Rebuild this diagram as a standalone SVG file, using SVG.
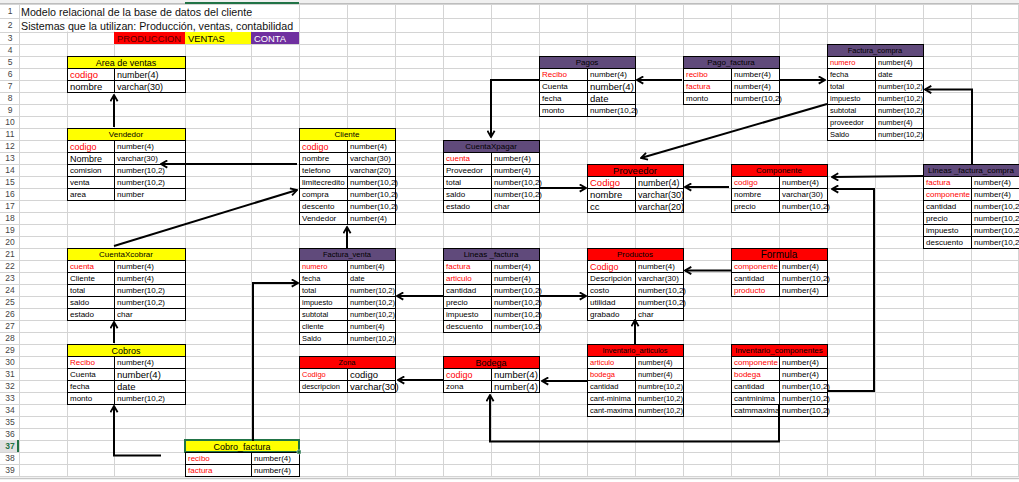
<svg xmlns="http://www.w3.org/2000/svg" width="1019" height="482" viewBox="0 0 1019 482">
<defs>
<style>
text{font-family:"Liberation Sans",Arial,sans-serif;dominant-baseline:central;fill:#000}
.grid{stroke:#d4d4d4;stroke-width:1;fill:none;shape-rendering:crispEdges}
.c{fill:#fff;stroke:#000;stroke-width:1;shape-rendering:crispEdges}
.hy{fill:#ffff00;stroke:#000;stroke-width:1;shape-rendering:crispEdges}
.hr{fill:#ff0000;stroke:#000;stroke-width:1;shape-rendering:crispEdges}
.hp{fill:#604a7b;stroke:#000;stroke-width:1;shape-rendering:crispEdges}
.xs{font-size:7.5px}.s{font-size:8px}.n9{font-size:9px}.l{font-size:9.5px}.xl{font-size:10px}
.k{fill:#ff0000}
.mid{text-anchor:middle}
.rn{font-size:8.5px;fill:#444;text-anchor:middle}
.ttl{font-size:10.7px;fill:#111}
.leg{font-size:9.4px}
#connectors path{fill:none;stroke:#000;stroke-width:2;marker-end:url(#arr)}
</style>
<marker id="arr" viewBox="0 0 10 10" refX="9" refY="5" markerWidth="9" markerHeight="9" markerUnits="userSpaceOnUse" orient="auto"><path d="M2,1 L9,5 L2,9" fill="none" stroke="#000" stroke-width="2"/></marker>
</defs>
<rect x="0" y="0" width="1019" height="482" fill="#fff"/>
<g id="sheet">
<rect x="0" y="0" width="1019" height="3" fill="#f0f0f0"/>
<path d="M0,3.5H1019" stroke="#bdbdbd" stroke-width="1"/>
<path d="M185,3H299" stroke="#217346" stroke-width="2"/>
<path class="grid" d="M0,4H1019M0,18H1019M0,32H1019M0,44H1019M0,56H1019M0,68H1019M0,80H1019M0,92H1019M0,104H1019M0,116H1019M0,128H1019M0,140H1019M0,152H1019M0,164H1019M0,176H1019M0,188H1019M0,200H1019M0,212H1019M0,224H1019M0,236H1019M0,248H1019M0,260H1019M0,272H1019M0,284H1019M0,296H1019M0,308H1019M0,320H1019M0,332H1019M0,344H1019M0,356H1019M0,368H1019M0,380H1019M0,392H1019M0,404H1019M0,416H1019M0,428H1019M0,440H1019M0,452H1019M0,464H1019M0,476H1019"/>
<path class="grid" d="M19,4V476M67,4V476M114,4V476M185,4V476M251,4V476M299,4V476M347,4V476M395,4V476M443,4V476M491,4V476M539,4V476M587,4V476M635,4V476M683,4V476M731,4V476M779,4V476M827,4V476M875,4V476M923,4V476M971,4V476M1018,4V476"/>
<rect x="20" y="5" width="278" height="12.5" fill="#fff"/>
<rect x="20" y="18.5" width="278" height="13" fill="#fff"/>
<path d="M0,478.5H1019" stroke="#c6c6c6" stroke-width="1.5"/>
<rect x="0" y="440" width="18" height="12" fill="#e1e1e1"/>
<path d="M18,440V452" stroke="#217346" stroke-width="2"/>
<g>
<text class="rn" x="10" y="11">1</text><text class="rn" x="10" y="25">2</text><text class="rn" x="10" y="38">3</text><text class="rn" x="10" y="50">4</text><text class="rn" x="10" y="62">5</text><text class="rn" x="10" y="74">6</text><text class="rn" x="10" y="86">7</text><text class="rn" x="10" y="98">8</text><text class="rn" x="10" y="110">9</text><text class="rn" x="10" y="122">10</text><text class="rn" x="10" y="134">11</text><text class="rn" x="10" y="146">12</text><text class="rn" x="10" y="158">13</text><text class="rn" x="10" y="170">14</text><text class="rn" x="10" y="182">15</text><text class="rn" x="10" y="194">16</text><text class="rn" x="10" y="206">17</text><text class="rn" x="10" y="218">18</text><text class="rn" x="10" y="230">19</text><text class="rn" x="10" y="242">20</text><text class="rn" x="10" y="254">21</text><text class="rn" x="10" y="266">22</text><text class="rn" x="10" y="278">23</text><text class="rn" x="10" y="290">24</text><text class="rn" x="10" y="302">25</text><text class="rn" x="10" y="314">26</text><text class="rn" x="10" y="326">27</text><text class="rn" x="10" y="338">28</text><text class="rn" x="10" y="350">29</text><text class="rn" x="10" y="362">30</text><text class="rn" x="10" y="374">31</text><text class="rn" x="10" y="386">32</text><text class="rn" x="10" y="398">33</text><text class="rn" x="10" y="410">34</text><text class="rn" x="10" y="422">35</text><text class="rn" x="10" y="434">36</text><text class="rn" x="10" y="446" style="fill:#217346;font-weight:bold">37</text><text class="rn" x="10" y="458">38</text><text class="rn" x="10" y="470">39</text>
</g>
</g>
<g id="title">
<text class="ttl" x="21" y="11.5">Modelo relacional de la base de datos del cliente</text>
<text class="ttl" x="21" y="25.5">Sistemas que la utilizan: Producción, ventas, contabilidad</text>
</g>
<g id="legend">
<rect x="114" y="32" width="71" height="12" fill="#ff0000"/>
<rect x="185" y="32" width="66" height="12" fill="#ffff00"/>
<rect x="251" y="32" width="48" height="12" fill="#7030a0"/>
<text class="leg" x="117" y="38.5" style="fill:#5a0000">PRODUCCION</text>
<text class="leg" x="188" y="38.5">VENTAS</text>
<text class="leg" x="254" y="38.5" style="fill:#fff">CONTA</text>
</g>

<g id="area-ventas">
<rect class="hy" x="67" y="56" width="118" height="12"/><text class="n9 mid" x="126" y="62.5">Area de ventas</text>
<rect class="c" x="67" y="68" width="47" height="12"/><rect class="c" x="114" y="68" width="71" height="12"/>
<rect class="c" x="67" y="80" width="47" height="12"/><rect class="c" x="114" y="80" width="71" height="12"/>
<text class="l k" x="70" y="74.5">codigo</text><text class="n9" x="117" y="74.5">number(4)</text>
<text class="l" x="70" y="86.5">nombre</text><text class="n9" x="117" y="86.5">varchar(30)</text>
</g>

<g id="vendedor">
<rect class="hy" x="67" y="128" width="118" height="12"/><text class="s mid" x="126" y="134.5">Vendedor</text>
<rect class="c" x="67" y="140" width="47" height="12"/><rect class="c" x="114" y="140" width="71" height="12"/>
<rect class="c" x="67" y="152" width="47" height="12"/><rect class="c" x="114" y="152" width="71" height="12"/>
<rect class="c" x="67" y="164" width="47" height="12"/><rect class="c" x="114" y="164" width="71" height="12"/>
<rect class="c" x="67" y="176" width="47" height="12"/><rect class="c" x="114" y="176" width="71" height="12"/>
<rect class="c" x="67" y="188" width="47" height="12"/><rect class="c" x="114" y="188" width="71" height="12"/>
<text class="n9 k" x="70" y="146.5">codigo</text><text class="s" x="117" y="146.5">number(4)</text>
<text class="n9" x="70" y="158.5">Nombre</text><text class="s" x="117" y="158.5">varchar(30)</text>
<text class="s" x="70" y="170.5">comision</text><text class="s" x="117" y="170.5">number(10,2)</text>
<text class="s" x="70" y="182.5">venta</text><text class="s" x="117" y="182.5">number(10,2)</text>
<text class="s" x="70" y="194.5">area</text><text class="s" x="117" y="194.5">number</text>
</g>

<g id="cuentaxcobrar">
<rect class="hy" x="67" y="248" width="118" height="12"/><text class="s mid" x="126" y="254.5">CuentaXcobrar</text>
<rect class="c" x="67" y="260" width="47" height="12"/><rect class="c" x="114" y="260" width="71" height="12"/>
<rect class="c" x="67" y="272" width="47" height="12"/><rect class="c" x="114" y="272" width="71" height="12"/>
<rect class="c" x="67" y="284" width="47" height="12"/><rect class="c" x="114" y="284" width="71" height="12"/>
<rect class="c" x="67" y="296" width="47" height="12"/><rect class="c" x="114" y="296" width="71" height="12"/>
<rect class="c" x="67" y="308" width="47" height="12"/><rect class="c" x="114" y="308" width="71" height="12"/>
<text class="s k" x="70" y="266.5">cuenta</text><text class="s" x="117" y="266.5">number(4)</text>
<text class="s" x="70" y="278.5">Cliente</text><text class="s" x="117" y="278.5">number(4)</text>
<text class="s" x="70" y="290.5">total</text><text class="s" x="117" y="290.5">number(10,2)</text>
<text class="s" x="70" y="302.5">saldo</text><text class="s" x="117" y="302.5">number(10,2)</text>
<text class="s" x="70" y="314.5">estado</text><text class="s" x="117" y="314.5">char</text>
</g>

<g id="cobros">
<rect class="hy" x="67" y="344" width="118" height="12"/><text class="n9 mid" x="126" y="350.5">Cobros</text>
<rect class="c" x="67" y="356" width="47" height="12"/><rect class="c" x="114" y="356" width="71" height="12"/>
<rect class="c" x="67" y="368" width="47" height="12"/><rect class="c" x="114" y="368" width="71" height="12"/>
<rect class="c" x="67" y="380" width="47" height="12"/><rect class="c" x="114" y="380" width="71" height="12"/>
<rect class="c" x="67" y="392" width="47" height="12"/><rect class="c" x="114" y="392" width="71" height="12"/>
<text class="s k" x="70" y="362.5">Recibo</text><text class="s" x="117" y="362.5">number(4)</text>
<text class="s" x="70" y="374.5">Cuenta</text><text class="l" x="117" y="374.5">number(4)</text>
<text class="s" x="70" y="386.5">fecha</text><text class="l" x="117" y="386.5">date</text>
<text class="s" x="70" y="398.5">monto</text><text class="s" x="117" y="398.5">number(10,2)</text>
</g>

<g id="cobro-factura">
<rect class="hy" x="185" y="440" width="114" height="12" style="stroke:#217346;stroke-width:2"/><text class="n9 mid" x="242" y="446.5">Cobro_factura</text>
<rect class="c" x="185" y="452" width="66" height="12"/><rect class="c" x="251" y="452" width="48" height="12"/>
<rect class="c" x="185" y="464" width="66" height="12"/><rect class="c" x="251" y="464" width="48" height="12"/>
<rect x="297" y="450" width="4" height="4" fill="#217346" stroke="#fff" stroke-width="0.5"/>
<text class="s k" x="188" y="458.5">recibo</text><text class="s" x="254" y="458.5">number(4)</text>
<text class="s k" x="188" y="470.5">factura</text><text class="s" x="254" y="470.5">number(4)</text>
</g>

<g id="cliente">
<rect class="hy" x="299" y="128" width="96" height="12"/><text class="s mid" x="347" y="134.5">Cliente</text>
<rect class="c" x="299" y="140" width="48" height="12"/><rect class="c" x="347" y="140" width="48" height="12"/>
<rect class="c" x="299" y="152" width="48" height="12"/><rect class="c" x="347" y="152" width="48" height="12"/>
<rect class="c" x="299" y="164" width="48" height="12"/><rect class="c" x="347" y="164" width="48" height="12"/>
<rect class="c" x="299" y="176" width="48" height="12"/><rect class="c" x="347" y="176" width="48" height="12"/>
<rect class="c" x="299" y="188" width="48" height="12"/><rect class="c" x="347" y="188" width="48" height="12"/>
<rect class="c" x="299" y="200" width="48" height="12"/><rect class="c" x="347" y="200" width="48" height="12"/>
<rect class="c" x="299" y="212" width="48" height="12"/><rect class="c" x="347" y="212" width="48" height="12"/>
<text class="n9 k" x="302" y="146.5">codigo</text><text class="s" x="350" y="146.5">number(4)</text>
<text class="s" x="302" y="158.5">nombre</text><text class="s" x="350" y="158.5">varchar(30)</text>
<text class="s" x="302" y="170.5">telefono</text><text class="s" x="350" y="170.5">varchar(20)</text>
<text class="s" x="302" y="182.5">limitecredito</text><text class="s" x="350" y="182.5">number(10,2)</text>
<text class="s" x="302" y="194.5">compra</text><text class="s" x="350" y="194.5">number(10,2)</text>
<text class="s" x="302" y="206.5">descento</text><text class="s" x="350" y="206.5">number(10,2)</text>
<text class="s" x="302" y="218.5">Vendedor</text><text class="s" x="350" y="218.5">number(4)</text>
</g>

<g id="factura-venta">
<rect class="hp" x="299" y="248" width="96" height="12"/><text class="xs mid" x="347" y="254.5">Factura_venta</text>
<rect class="c" x="299" y="260" width="48" height="12"/><rect class="c" x="347" y="260" width="48" height="12"/>
<rect class="c" x="299" y="272" width="48" height="12"/><rect class="c" x="347" y="272" width="48" height="12"/>
<rect class="c" x="299" y="284" width="48" height="12"/><rect class="c" x="347" y="284" width="48" height="12"/>
<rect class="c" x="299" y="296" width="48" height="12"/><rect class="c" x="347" y="296" width="48" height="12"/>
<rect class="c" x="299" y="308" width="48" height="12"/><rect class="c" x="347" y="308" width="48" height="12"/>
<rect class="c" x="299" y="320" width="48" height="12"/><rect class="c" x="347" y="320" width="48" height="12"/>
<rect class="c" x="299" y="332" width="48" height="12"/><rect class="c" x="347" y="332" width="48" height="12"/>
<text class="xs k" x="302" y="266.5">numero</text><text class="xs" x="350" y="266.5">number(4)</text>
<text class="xs" x="302" y="278.5">fecha</text><text class="xs" x="350" y="278.5">date</text>
<text class="xs" x="302" y="290.5">total</text><text class="xs" x="350" y="290.5">number(10,2)</text>
<text class="xs" x="302" y="302.5">impuesto</text><text class="xs" x="350" y="302.5">number(10,2)</text>
<text class="xs" x="302" y="314.5">subtotal</text><text class="xs" x="350" y="314.5">number(10,2)</text>
<text class="xs" x="302" y="326.5">cliente</text><text class="xs" x="350" y="326.5">number(4)</text>
<text class="xs" x="302" y="338.5">Saldo</text><text class="xs" x="350" y="338.5">number(10,2)</text>
</g>

<g id="zona">
<rect class="hr" x="299" y="356" width="96" height="12"/><text class="xs mid" x="347" y="362.5">Zona</text>
<rect class="c" x="299" y="368" width="48" height="12"/><rect class="c" x="347" y="368" width="48" height="12"/>
<rect class="c" x="299" y="380" width="48" height="12"/><rect class="c" x="347" y="380" width="48" height="12"/>
<text class="xs k" x="302" y="374.5">Codigo</text><text class="l" x="350" y="374.5">codigo</text>
<text class="xs" x="302" y="386.5">descripcion</text><text class="l" x="350" y="386.5">varchar(30)</text>
</g>

<g id="cuentaxpagar">
<rect class="hp" x="443" y="140" width="96" height="12"/><text class="s mid" x="491" y="146.5">CuentaXpagar</text>
<rect class="c" x="443" y="152" width="48" height="12"/><rect class="c" x="491" y="152" width="48" height="12"/>
<rect class="c" x="443" y="164" width="48" height="12"/><rect class="c" x="491" y="164" width="48" height="12"/>
<rect class="c" x="443" y="176" width="48" height="12"/><rect class="c" x="491" y="176" width="48" height="12"/>
<rect class="c" x="443" y="188" width="48" height="12"/><rect class="c" x="491" y="188" width="48" height="12"/>
<rect class="c" x="443" y="200" width="48" height="12"/><rect class="c" x="491" y="200" width="48" height="12"/>
<text class="s k" x="446" y="158.5">cuenta</text><text class="s" x="494" y="158.5">number(4)</text>
<text class="s" x="446" y="170.5">Proveedor</text><text class="s" x="494" y="170.5">number(4)</text>
<text class="s" x="446" y="182.5">total</text><text class="s" x="494" y="182.5">number(10,2)</text>
<text class="s" x="446" y="194.5">saldo</text><text class="s" x="494" y="194.5">number(10,2)</text>
<text class="s" x="446" y="206.5">estado</text><text class="s" x="494" y="206.5">char</text>
</g>

<g id="lineas-factura">
<rect class="hp" x="443" y="248" width="96" height="12"/><text class="s mid" x="491" y="254.5">Lineas _factura</text>
<rect class="c" x="443" y="260" width="48" height="12"/><rect class="c" x="491" y="260" width="48" height="12"/>
<rect class="c" x="443" y="272" width="48" height="12"/><rect class="c" x="491" y="272" width="48" height="12"/>
<rect class="c" x="443" y="284" width="48" height="12"/><rect class="c" x="491" y="284" width="48" height="12"/>
<rect class="c" x="443" y="296" width="48" height="12"/><rect class="c" x="491" y="296" width="48" height="12"/>
<rect class="c" x="443" y="308" width="48" height="12"/><rect class="c" x="491" y="308" width="48" height="12"/>
<rect class="c" x="443" y="320" width="48" height="12"/><rect class="c" x="491" y="320" width="48" height="12"/>
<text class="s k" x="446" y="266.5">factura</text><text class="s" x="494" y="266.5">number(4)</text>
<text class="s k" x="446" y="278.5">articulo</text><text class="s" x="494" y="278.5">number(4)</text>
<text class="s" x="446" y="290.5">cantidad</text><text class="s" x="494" y="290.5">number(10,2)</text>
<text class="s" x="446" y="302.5">precio</text><text class="s" x="494" y="302.5">number(10,2)</text>
<text class="s" x="446" y="314.5">impuesto</text><text class="s" x="494" y="314.5">number(10,2)</text>
<text class="s" x="446" y="326.5">descuento</text><text class="s" x="494" y="326.5">number(10,2)</text>
</g>

<g id="bodega">
<rect class="hr" x="443" y="356" width="96" height="12"/><text class="n9 mid" x="491" y="362.5">Bodega</text>
<rect class="c" x="443" y="368" width="48" height="12"/><rect class="c" x="491" y="368" width="48" height="12"/>
<rect class="c" x="443" y="380" width="48" height="12"/><rect class="c" x="491" y="380" width="48" height="12"/>
<text class="n9 k" x="446" y="374.5">codigo</text><text class="l" x="494" y="374.5">number(4)</text>
<text class="s" x="446" y="386.5">zona</text><text class="l" x="494" y="386.5">number(4)</text>
</g>

<g id="pagos">
<rect class="hp" x="539" y="56" width="96" height="12"/><text class="s mid" x="587" y="62.5">Pagos</text>
<rect class="c" x="539" y="68" width="48" height="12"/><rect class="c" x="587" y="68" width="48" height="12"/>
<rect class="c" x="539" y="80" width="48" height="12"/><rect class="c" x="587" y="80" width="48" height="12"/>
<rect class="c" x="539" y="92" width="48" height="12"/><rect class="c" x="587" y="92" width="48" height="12"/>
<rect class="c" x="539" y="104" width="48" height="12"/><rect class="c" x="587" y="104" width="48" height="12"/>
<text class="s k" x="542" y="74.5">Recibo</text><text class="s" x="590" y="74.5">number(4)</text>
<text class="s" x="542" y="86.5">Cuenta</text><text class="l" x="590" y="86.5">number(4)</text>
<text class="s" x="542" y="98.5">fecha</text><text class="l" x="590" y="98.5">date</text>
<text class="s" x="542" y="110.5">monto</text><text class="s" x="590" y="110.5">number(10,2)</text>
</g>

<g id="pago-factura">
<rect class="hp" x="683" y="56" width="96" height="12"/><text class="s mid" x="731" y="62.5">Pago_factura</text>
<rect class="c" x="683" y="68" width="48" height="12"/><rect class="c" x="731" y="68" width="48" height="12"/>
<rect class="c" x="683" y="80" width="48" height="12"/><rect class="c" x="731" y="80" width="48" height="12"/>
<rect class="c" x="683" y="92" width="48" height="12"/><rect class="c" x="731" y="92" width="48" height="12"/>
<text class="s k" x="686" y="74.5">recibo</text><text class="s" x="734" y="74.5">number(4)</text>
<text class="s k" x="686" y="86.5">factura</text><text class="s" x="734" y="86.5">number(4)</text>
<text class="s" x="686" y="98.5">monto</text><text class="s" x="734" y="98.5">number(10,2)</text>
</g>

<g id="factura-compra">
<rect class="hp" x="827" y="44" width="96" height="12"/><text class="xs mid" x="875" y="50.5">Factura_compra</text>
<rect class="c" x="827" y="56" width="48" height="12"/><rect class="c" x="875" y="56" width="48" height="12"/>
<rect class="c" x="827" y="68" width="48" height="12"/><rect class="c" x="875" y="68" width="48" height="12"/>
<rect class="c" x="827" y="80" width="48" height="12"/><rect class="c" x="875" y="80" width="48" height="12"/>
<rect class="c" x="827" y="92" width="48" height="12"/><rect class="c" x="875" y="92" width="48" height="12"/>
<rect class="c" x="827" y="104" width="48" height="12"/><rect class="c" x="875" y="104" width="48" height="12"/>
<rect class="c" x="827" y="116" width="48" height="12"/><rect class="c" x="875" y="116" width="48" height="12"/>
<rect class="c" x="827" y="128" width="48" height="12"/><rect class="c" x="875" y="128" width="48" height="12"/>
<text class="xs k" x="830" y="62.5">numero</text><text class="xs" x="878" y="62.5">number(4)</text>
<text class="xs" x="830" y="74.5">fecha</text><text class="xs" x="878" y="74.5">date</text>
<text class="xs" x="830" y="86.5">total</text><text class="xs" x="878" y="86.5">number(10,2)</text>
<text class="xs" x="830" y="98.5">impuesto</text><text class="xs" x="878" y="98.5">number(10,2)</text>
<text class="xs" x="830" y="110.5">subtotal</text><text class="xs" x="878" y="110.5">number(10,2)</text>
<text class="xs" x="830" y="122.5">proveedor</text><text class="xs" x="878" y="122.5">number(4)</text>
<text class="xs" x="830" y="134.5">Saldo</text><text class="xs" x="878" y="134.5">number(10,2)</text>
</g>

<g id="proveedor">
<rect class="hr" x="587" y="164" width="96" height="12"/><text class="l mid" x="635" y="170.5">Proveedor</text>
<rect class="c" x="587" y="176" width="48" height="12"/><rect class="c" x="635" y="176" width="48" height="12"/>
<rect class="c" x="587" y="188" width="48" height="12"/><rect class="c" x="635" y="188" width="48" height="12"/>
<rect class="c" x="587" y="200" width="48" height="12"/><rect class="c" x="635" y="200" width="48" height="12"/>
<text class="l k" x="590" y="182.5">Codigo</text><text class="n9" x="638" y="182.5">number(4)</text>
<text class="l" x="590" y="194.5">nombre</text><text class="n9" x="638" y="194.5">varchar(30)</text>
<text class="l" x="590" y="206.5">cc</text><text class="n9" x="638" y="206.5">varchar(20)</text>
</g>

<g id="componente">
<rect class="hr" x="731" y="164" width="96" height="12"/><text class="s mid" x="779" y="170.5">Componente</text>
<rect class="c" x="731" y="176" width="48" height="12"/><rect class="c" x="779" y="176" width="48" height="12"/>
<rect class="c" x="731" y="188" width="48" height="12"/><rect class="c" x="779" y="188" width="48" height="12"/>
<rect class="c" x="731" y="200" width="48" height="12"/><rect class="c" x="779" y="200" width="48" height="12"/>
<text class="s k" x="734" y="182.5">codigo</text><text class="s" x="782" y="182.5">number(4)</text>
<text class="s" x="734" y="194.5">nombre</text><text class="s" x="782" y="194.5">varchar(30)</text>
<text class="s" x="734" y="206.5">precio</text><text class="s" x="782" y="206.5">number(10,2)</text>
</g>

<g id="lineas-factura-compra">
<rect class="hp" x="923" y="164" width="108" height="12"/><text class="s mid" x="971" y="170.5">Lineas _factura_compra</text>
<rect class="c" x="923" y="176" width="48" height="12"/><rect class="c" x="971" y="176" width="60" height="12"/>
<rect class="c" x="923" y="188" width="48" height="12"/><rect class="c" x="971" y="188" width="60" height="12"/>
<rect class="c" x="923" y="200" width="48" height="12"/><rect class="c" x="971" y="200" width="60" height="12"/>
<rect class="c" x="923" y="212" width="48" height="12"/><rect class="c" x="971" y="212" width="60" height="12"/>
<rect class="c" x="923" y="224" width="48" height="12"/><rect class="c" x="971" y="224" width="60" height="12"/>
<rect class="c" x="923" y="236" width="48" height="12"/><rect class="c" x="971" y="236" width="60" height="12"/>
<text class="s k" x="926" y="182.5">factura</text><text class="s" x="974" y="182.5">number(4)</text>
<text class="s k" x="926" y="194.5">componente</text><text class="s" x="974" y="194.5">number(4)</text>
<text class="s" x="926" y="206.5">cantidad</text><text class="s" x="974" y="206.5">number(10,2</text>
<text class="s" x="926" y="218.5">precio</text><text class="s" x="974" y="218.5">number(10,2</text>
<text class="s" x="926" y="230.5">impuesto</text><text class="s" x="974" y="230.5">number(10,2</text>
<text class="s" x="926" y="242.5">descuento</text><text class="s" x="974" y="242.5">number(10,2</text>
</g>

<g id="productos">
<rect class="hr" x="587" y="248" width="96" height="12"/><text class="s mid" x="635" y="254.5">Productos</text>
<rect class="c" x="587" y="260" width="48" height="12"/><rect class="c" x="635" y="260" width="48" height="12"/>
<rect class="c" x="587" y="272" width="48" height="12"/><rect class="c" x="635" y="272" width="48" height="12"/>
<rect class="c" x="587" y="284" width="48" height="12"/><rect class="c" x="635" y="284" width="48" height="12"/>
<rect class="c" x="587" y="296" width="48" height="12"/><rect class="c" x="635" y="296" width="48" height="12"/>
<rect class="c" x="587" y="308" width="48" height="12"/><rect class="c" x="635" y="308" width="48" height="12"/>
<text class="n9 k" x="590" y="266.5">Codigo</text><text class="s" x="638" y="266.5">number(4)</text>
<text class="s" x="590" y="278.5">Descripción</text><text class="s" x="638" y="278.5">varchar(30)</text>
<text class="s" x="590" y="290.5">costo</text><text class="s" x="638" y="290.5">number(10,2)</text>
<text class="s" x="590" y="302.5">utilidad</text><text class="s" x="638" y="302.5">number(10,2)</text>
<text class="s" x="590" y="314.5">grabado</text><text class="s" x="638" y="314.5">char</text>
</g>

<g id="formula">
<rect class="hr" x="731" y="248" width="96" height="12"/><text class="xl mid" x="779" y="254.5">Formula</text>
<rect class="c" x="731" y="260" width="48" height="12"/><rect class="c" x="779" y="260" width="48" height="12"/>
<rect class="c" x="731" y="272" width="48" height="12"/><rect class="c" x="779" y="272" width="48" height="12"/>
<rect class="c" x="731" y="284" width="48" height="12"/><rect class="c" x="779" y="284" width="48" height="12"/>
<text class="s k" x="734" y="266.5">componente</text><text class="s" x="782" y="266.5">number(4)</text>
<text class="s" x="734" y="278.5">cantidad</text><text class="s" x="782" y="278.5">number(10,2)</text>
<text class="s k" x="734" y="290.5">producto</text><text class="s" x="782" y="290.5">number(4)</text>
</g>

<g id="inventario-articulos">
<rect class="hr" x="587" y="344" width="96" height="12"/><text class="xs mid" x="635" y="350.5">Inventario_articulos</text>
<rect class="c" x="587" y="356" width="48" height="12"/><rect class="c" x="635" y="356" width="48" height="12"/>
<rect class="c" x="587" y="368" width="48" height="12"/><rect class="c" x="635" y="368" width="48" height="12"/>
<rect class="c" x="587" y="380" width="48" height="12"/><rect class="c" x="635" y="380" width="48" height="12"/>
<rect class="c" x="587" y="392" width="48" height="12"/><rect class="c" x="635" y="392" width="48" height="12"/>
<rect class="c" x="587" y="404" width="48" height="12"/><rect class="c" x="635" y="404" width="48" height="12"/>
<text class="xs k" x="590" y="362.5">articulo</text><text class="xs" x="638" y="362.5">number(4)</text>
<text class="xs k" x="590" y="374.5">bodega</text><text class="xs" x="638" y="374.5">number(4)</text>
<text class="xs" x="590" y="386.5">cantidad</text><text class="xs" x="638" y="386.5">numbre(10,2)</text>
<text class="xs" x="590" y="398.5">cant-minima</text><text class="xs" x="638" y="398.5">number(10,2)</text>
<text class="xs" x="590" y="410.5">cant-maxima</text><text class="xs" x="638" y="410.5">number(10,2)</text>
</g>

<g id="inventario-componentes">
<rect class="hr" x="731" y="344" width="96" height="12"/><text class="s mid" x="779" y="350.5">Inventario_componentes</text>
<rect class="c" x="731" y="356" width="48" height="12"/><rect class="c" x="779" y="356" width="48" height="12"/>
<rect class="c" x="731" y="368" width="48" height="12"/><rect class="c" x="779" y="368" width="48" height="12"/>
<rect class="c" x="731" y="380" width="48" height="12"/><rect class="c" x="779" y="380" width="48" height="12"/>
<rect class="c" x="731" y="392" width="48" height="12"/><rect class="c" x="779" y="392" width="48" height="12"/>
<rect class="c" x="731" y="404" width="48" height="12"/><rect class="c" x="779" y="404" width="48" height="12"/>
<text class="s k" x="734" y="362.5">componente</text><text class="s" x="782" y="362.5">number(4)</text>
<text class="s k" x="734" y="374.5">bodega</text><text class="s" x="782" y="374.5">number(4)</text>
<text class="s" x="734" y="386.5">cantidad</text><text class="s" x="782" y="386.5">number(10,2)</text>
<text class="s" x="734" y="398.5">cantminima</text><text class="s" x="782" y="398.5">number(10,2)</text>
<text class="s" x="734" y="410.5">catmmaxima</text><text class="s" x="782" y="410.5">number(10,2)</text>
</g>

<g id="connectors">
<path d="M114,127 L114,95"/>
<path d="M297,164 L161,164"/>
<path d="M114,246 L297,190"/>
<path d="M347,248 L347,227"/>
<path d="M253,441 L253,283 L298,283"/>
<path d="M161,455.5 L114,455.5 L114,406"/>
<path d="M114,343 L114,322"/>
<path d="M443,296 L397,296"/>
<path d="M539,296 L586,296"/>
<path d="M539,188 L586,188"/>
<path d="M729,187 L685,187"/>
<path d="M731,270.5 L685,270.5"/>
<path d="M635,344 L635,320"/>
<path d="M587,381 L542,381"/>
<path d="M443,380 L398,380"/>
<path d="M779,404 L779,441.5 L490,441.5 L490,395"/>
<path d="M828,391 L874,391 L874,189 L832,189"/>
<path d="M923,176 L832,177"/>
<path d="M972,164 L972,89.5 L925,89.5"/>
<path d="M779,80 L825,80"/>
<path d="M682,80 L637,80"/>
<path d="M539,80 L491,80 L491,137"/>
<path d="M827,104 L641,158"/>
</g>
</svg>
